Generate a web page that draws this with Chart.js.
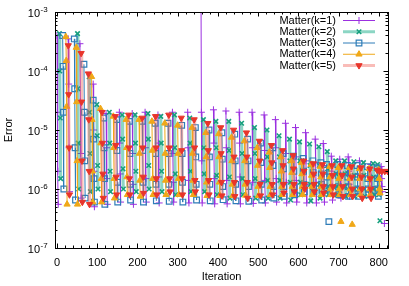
<!DOCTYPE html>
<html>
<head>
<meta charset="utf-8">
<script src="https://cdn.jsdelivr.net/npm/chart.js@4.4.0/dist/chart.umd.min.js"></script>
<style>
  html, body { margin: 0; padding: 0; background: #fff; }
  #wrap { width: 409px; height: 286px; }
</style>
</head>
<body>
<div id="wrap"><canvas id="errChart" width="409" height="286"></canvas></div>
<script>
// Iteration where each drop of the error starts, and the values read along each drop
// (a drop with a single value is an isolated point)
const k1Start = [0, 28, 57, 90, 122, 155, 187, 219, 251, 287, 325, 358, 389, 420, 453, 485, 515, 543, 568, 593, 618, 642, 662, 682, 703, 724, 752, 780, 806, 814];
const k1Vals = [
    [4.0e-4, 2.0e-5, 2.0e-6, 5.5e-7], [3.5e-4, 6.0e-5, 5.0e-6, 9.0e-7], [2.9e-4, 3.0e-5, 4.0e-6, 7.0e-7],
    [6.0e-5, 1.0e-5, 2.0e-6, 5.0e-7], [1.9e-5, 5.0e-6, 1.5e-6, 5.5e-7], [2.0e-5, 6.0e-6, 1.8e-6, 6.0e-7],
    [1.9e-5, 4.0e-6, 1.2e-6, 5.5e-7], [2.0e-5, 5.0e-6, 1.5e-6, 6.0e-7], [1.8e-5, 6.0e-6, 1.6e-6, 5.8e-7],
    [2.0e-5, 4.0e-6, 1.3e-6, 6.0e-7], [2.0e-5, 5.0e-6, 1.4e-6, 5.8e-7], [3.0e-3, 2.0e-5, 3.0e-6, 5.8e-7],
    [2.2e-5, 6.0e-6, 1.5e-6, 5.6e-7], [2.1e-5, 5.0e-6, 1.4e-6, 5.6e-7], [2.0e-5, 6.0e-6, 1.6e-6, 5.6e-7],
    [2.0e-5, 5.0e-6, 1.3e-6, 5.7e-7], [1.8e-5, 4.5e-6, 1.4e-6, 5.8e-7], [1.5e-5, 5.0e-6, 1.5e-6, 6.0e-7],
    [1.3e-5, 4.0e-6, 1.3e-6, 5.8e-7], [1.1e-5, 3.5e-6, 1.4e-6, 6.0e-7], [9.0e-6, 3.0e-6, 1.2e-6, 5.8e-7],
    [7.0e-6, 2.8e-6, 1.3e-6, 5.8e-7], [5.9e-6, 2.5e-6, 1.2e-6, 6.0e-7], [3.6e-6, 2.0e-6, 1.1e-6, 6.5e-7],
    [3.2e-6, 1.8e-6, 1.1e-6, 7.0e-7], [3.5e-6, 2.0e-6, 1.2e-6, 7.5e-7], [3.0e-6, 1.8e-6, 1.1e-6, 8.0e-7],
    [2.6e-6, 1.6e-6, 1.1e-6, 8.5e-7], [2.4e-6, 1.5e-6, 1.1e-6, 9.0e-7], [2.6e-7]
];

const k2Start = [6, 51, 80, 99, 130, 162, 194, 226, 258, 292, 330, 364, 395, 427, 459, 491, 522, 552, 578, 603, 628, 651, 672, 693, 715, 738, 762, 786, 797, 803];
const k2Vals = [
    [4.3e-4, 1.0e-4, 1.6e-5, 1.5e-6], [4.3e-4, 5.0e-5, 6.0e-6, 1.0e-6], [8.0e-5, 2.0e-5, 4.0e-6, 9.0e-7],
    [2.7e-5, 8.0e-6, 2.5e-6, 1.0e-6], [2.0e-5, 6.0e-6, 2.0e-6, 9.0e-7], [1.8e-5, 7.0e-6, 2.2e-6, 1.0e-6],
    [1.8e-5, 6.0e-6, 2.0e-6, 9.0e-7], [1.9e-5, 7.0e-6, 2.5e-6, 1.0e-6], [1.7e-5, 6.0e-6, 2.0e-6, 9.0e-7],
    [1.8e-5, 5.0e-6, 1.8e-6, 8.0e-7], [1.6e-5, 6.0e-6, 2.0e-6, 9.0e-7], [1.5e-5, 5.0e-6, 1.8e-6, 9.0e-7],
    [1.4e-5, 5.0e-6, 1.7e-6, 8.0e-7], [1.4e-5, 4.5e-6, 1.6e-6, 7.0e-7], [1.3e-5, 4.0e-6, 1.5e-6, 8.0e-7],
    [1.1e-5, 4.0e-6, 1.5e-6, 7.0e-7], [1.0e-5, 3.5e-6, 1.4e-6, 7.0e-7], [8.0e-6, 3.5e-6, 1.4e-6, 7.0e-7],
    [7.0e-6, 3.0e-6, 1.3e-6, 6.5e-7], [6.3e-6, 3.0e-6, 1.3e-6, 8.0e-7], [5.8e-6, 2.5e-6, 1.2e-6, 6.3e-7],
    [5.2e-6, 2.5e-6, 1.2e-6, 7.0e-7], [4.3e-6, 2.2e-6, 1.1e-6, 8.0e-7], [3.0e-6, 1.8e-6, 1.1e-6, 8.0e-7],
    [3.0e-6, 1.8e-6, 1.1e-6, 7.5e-7], [2.9e-6, 1.7e-6, 1.0e-6, 7.5e-7], [2.8e-6, 1.7e-6, 1.0e-6, 7.5e-7],
    [2.7e-6, 1.6e-6, 1.0e-6, 8.0e-7], [2.6e-6, 1.5e-6, 1.0e-6, 8.0e-7], [2.9e-7]
];

const k3Start = [14, 43, 67, 90, 116, 148, 180, 212, 244, 276, 310, 344, 378, 410, 442, 474, 506, 536, 562, 588, 612, 636, 656, 670, 676, 698, 722, 746, 772, 796];
const k3Vals = [
    [4.0e-4, 1.2e-4, 2.0e-5, 1.0e-6], [3.5e-4, 5.0e-5, 5.0e-6, 6.5e-7], [1.3e-4, 2.0e-5, 3.0e-6, 7.0e-7],
    [3.2e-5, 7.0e-6, 1.5e-6, 6.0e-7], [1.6e-5, 5.0e-6, 1.5e-6, 5.5e-7], [1.5e-5, 4.5e-6, 1.3e-6, 6.0e-7],
    [1.4e-5, 4.0e-6, 1.2e-6, 6.5e-7], [1.4e-5, 4.5e-6, 1.3e-6, 6.0e-7], [1.3e-5, 4.0e-6, 1.2e-6, 6.3e-7],
    [1.3e-5, 4.0e-6, 1.2e-6, 6.2e-7], [1.2e-5, 4.0e-6, 1.3e-6, 6.0e-7], [1.1e-5, 3.5e-6, 1.2e-6, 6.5e-7],
    [1.0e-5, 3.5e-6, 1.2e-6, 6.3e-7], [9.0e-6, 3.2e-6, 1.1e-6, 6.6e-7], [8.5e-6, 3.0e-6, 1.2e-6, 6.3e-7],
    [7.0e-6, 3.0e-6, 1.1e-6, 6.2e-7], [6.0e-6, 2.8e-6, 1.2e-6, 6.5e-7], [5.0e-6, 2.5e-6, 1.1e-6, 7.0e-7],
    [4.0e-6, 2.2e-6, 1.1e-6, 7.5e-7], [3.6e-6, 2.0e-6, 1.1e-6, 8.0e-7], [3.3e-6, 2.0e-6, 1.2e-6, 9.0e-7],
    [3.0e-6, 1.9e-6, 1.1e-6, 9.0e-7], [2.8e-6, 1.8e-6, 1.2e-6, 9.5e-7], [2.6e-6, 1.6e-6, 1.0e-6, 8.5e-7],
    [2.8e-7], [2.6e-6, 1.7e-6, 1.1e-6, 8.0e-7], [2.5e-6, 1.6e-6, 1.1e-6, 7.5e-7], [2.5e-6, 1.6e-6, 1.0e-6, 7.5e-7],
    [2.4e-6, 1.5e-6, 1.0e-6, 8.0e-7], [2.3e-6, 1.5e-6, 1.0e-6, 7.5e-7]
];

const k4Start = [22, 48, 86, 108, 140, 172, 204, 236, 268, 300, 336, 370, 402, 434, 466, 498, 528, 557, 583, 608, 632, 655, 678, 700, 706, 727, 734, 752, 776, 800];
const k4Vals = [
    [3.8e-4, 1.5e-4, 2.5e-5, 5.5e-7], [2.5e-4, 3.0e-5, 3.0e-6, 5.5e-7], [8.0e-5, 1.5e-5, 2.0e-6, 6.0e-7],
    [2.3e-5, 6.0e-6, 1.5e-6, 6.0e-7], [1.7e-5, 5.0e-6, 1.5e-6, 7.0e-7], [1.5e-5, 5.0e-6, 1.6e-6, 8.0e-7],
    [1.5e-5, 4.0e-6, 1.4e-6, 7.5e-7], [1.4e-5, 4.5e-6, 1.5e-6, 8.0e-7], [1.3e-5, 4.0e-6, 1.4e-6, 8.0e-7],
    [1.2e-5, 4.0e-6, 1.5e-6, 8.0e-7], [1.1e-5, 4.0e-6, 1.4e-6, 8.0e-7], [9.0e-6, 3.5e-6, 1.3e-6, 7.7e-7],
    [8.6e-6, 3.5e-6, 1.3e-6, 7.7e-7], [7.5e-6, 3.0e-6, 1.2e-6, 7.7e-7], [6.5e-6, 3.0e-6, 1.2e-6, 7.8e-7],
    [5.0e-6, 2.5e-6, 1.1e-6, 7.7e-7], [4.2e-6, 2.3e-6, 1.1e-6, 8.0e-7], [3.5e-6, 2.0e-6, 1.1e-6, 8.0e-7],
    [3.0e-6, 1.9e-6, 1.1e-6, 8.0e-7], [2.8e-6, 1.8e-6, 1.1e-6, 8.0e-7], [2.6e-6, 1.7e-6, 1.1e-6, 8.0e-7],
    [2.4e-6, 1.6e-6, 1.1e-6, 8.0e-7], [2.4e-6, 1.6e-6, 1.0e-6, 8.0e-7], [2.3e-6, 1.5e-6, 1.0e-6, 8.0e-7],
    [2.8e-7], [2.3e-6, 1.5e-6, 1.0e-6, 8.0e-7], [2.5e-7], [2.2e-6, 1.5e-6, 1.0e-6, 8.0e-7],
    [2.2e-6, 1.5e-6, 1.0e-6, 8.0e-7], [2.1e-6, 1.5e-6, 1.0e-6, 8.5e-7]
];

const k5Start = [28, 60, 78, 112, 145, 178, 212, 245, 278, 309, 341, 375, 407, 439, 471, 503, 533, 561, 587, 613, 637, 660, 684, 708, 732, 756, 778];
const k5Vals = [
    [2.7e-4, 4.0e-5, 5.0e-6, 8.0e-7], [2.0e-4, 3.0e-5, 3.0e-6, 6.0e-7], [9.0e-5, 1.5e-5, 2.0e-6, 5.5e-7],
    [2.0e-5, 6.0e-6, 1.8e-6, 7.0e-7], [1.7e-5, 5.5e-6, 1.6e-6, 8.0e-7], [1.8e-5, 5.0e-6, 1.5e-6, 8.0e-7],
    [1.6e-5, 5.0e-6, 1.6e-6, 8.5e-7], [1.7e-5, 5.0e-6, 1.5e-6, 8.0e-7], [1.8e-5, 5.0e-6, 1.5e-6, 9.0e-7],
    [1.6e-5, 4.5e-6, 1.5e-6, 8.0e-7], [1.5e-5, 5.0e-6, 1.4e-6, 9.0e-7], [1.3e-5, 4.5e-6, 1.4e-6, 8.0e-7],
    [1.1e-5, 4.0e-6, 1.3e-6, 7.7e-7], [1.0e-5, 3.5e-6, 1.3e-6, 7.5e-7], [9.0e-6, 3.5e-6, 1.3e-6, 7.0e-7],
    [6.5e-6, 3.0e-6, 1.2e-6, 7.7e-7], [5.5e-6, 2.8e-6, 1.2e-6, 8.0e-7], [4.5e-6, 2.5e-6, 1.2e-6, 8.6e-7],
    [3.7e-6, 2.2e-6, 1.2e-6, 9.0e-7], [3.0e-6, 2.0e-6, 1.2e-6, 1.0e-6], [2.7e-6, 1.8e-6, 1.2e-6, 9.0e-7],
    [2.6e-6, 1.8e-6, 1.1e-6, 8.6e-7], [2.5e-6, 1.7e-6, 1.1e-6, 8.0e-7], [2.5e-6, 1.7e-6, 1.1e-6, 7.5e-7],
    [2.4e-6, 1.6e-6, 1.0e-6, 7.5e-7], [2.3e-6, 1.6e-6, 1.0e-6, 7.0e-7], [2.2e-6, 1.5e-6, 1.0e-6, 7.0e-7]
];
// k=5 settles flat at the end
const k5TailIter = [796, 802, 808, 815, 822];
const k5TailVals = [2.1e-6, 2.0e-6, 2.0e-6, 2.0e-6, 2.0e-6];

const seriesLabels = ['Matter(k=1)', 'Matter(k=2)', 'Matter(k=3)', 'Matter(k=4)', 'Matter(k=5)'];
const xTicks = [0, 100, 200, 300, 400, 500, 600, 700, 800];
const yExponents = [-3, -4, -5, -6, -7];

const FONT = '"Liberation Sans", Arial, sans-serif';

// each drop is one short run of consecutive iterations; a null breaks the line before the next drop
function buildPoints(starts, vals) {
    const pts = [];
    starts.forEach((s, i) => {
        vals[i].forEach((v, j) => pts.push({ x: s + j, y: v }));
        pts.push({ x: s + vals[i].length, y: null });
    });
    return pts;
}

const k5Points = buildPoints(k5Start, k5Vals);
k5TailIter.forEach((it, i) => k5Points.push({ x: it, y: k5TailVals[i] }));

const datasets = [
    {
        label: seriesLabels[0], data: buildPoints(k1Start, k1Vals),
        borderColor: '#9b30e0', borderWidth: 1,
        pointStyle: 'cross', pointRadius: 3.5, pointBorderWidth: 1,
        pointBorderColor: '#9b30e0', pointBackgroundColor: '#9b30e0', order: 5
    },
    {
        label: seriesLabels[1], data: buildPoints(k2Start, k2Vals),
        borderColor: 'rgba(0, 165, 125, 0.45)', borderWidth: 3,
        pointStyle: 'crossRot', pointRadius: 3.2, pointBorderWidth: 1.6,
        pointBorderColor: '#16a07e', pointBackgroundColor: '#16a07e', order: 4
    },
    {
        label: seriesLabels[2], data: buildPoints(k3Start, k3Vals),
        borderColor: '#2f7db8', borderWidth: 1,
        pointStyle: 'rect', pointRadius: 4, pointBorderWidth: 1.2,
        pointBorderColor: '#2f7db8', pointBackgroundColor: 'rgba(255,255,255,0)', order: 3
    },
    {
        label: seriesLabels[3], data: buildPoints(k4Start, k4Vals),
        borderColor: '#f0a818', borderWidth: 1,
        pointStyle: 'triangle', pointRadius: 3.6, pointBorderWidth: 1,
        pointBorderColor: '#f0a818', pointBackgroundColor: '#f0a818', order: 2
    },
    {
        label: seriesLabels[4], data: k5Points,
        borderColor: 'rgba(240, 95, 85, 0.42)', borderWidth: 3,
        pointStyle: 'triangle', pointRotation: 180, pointRadius: 3.6, pointBorderWidth: 1,
        pointBorderColor: '#e8352b', pointBackgroundColor: '#e8352b', order: 1
    }
];
datasets.forEach(ds => { ds.spanGaps = false; ds.tension = 0; ds.fill = false; });

// gnuplot style border with inward ticks on all four sides
const framePlugin = {
    id: 'frame',
    afterDatasetsDraw(chart) {
        const { ctx, chartArea: a, scales: { x, y } } = chart;
        ctx.save();
        ctx.strokeStyle = '#000';
        ctx.lineWidth = 1;
        const tick = (px, len, vertical) => {
            ctx.beginPath();
            if (vertical) {
                ctx.moveTo(px, a.bottom); ctx.lineTo(px, a.bottom - len);
                ctx.moveTo(px, a.top); ctx.lineTo(px, a.top + len);
            } else {
                ctx.moveTo(a.left, px); ctx.lineTo(a.left + len, px);
                ctx.moveTo(a.right, px); ctx.lineTo(a.right - len, px);
            }
            ctx.stroke();
        };
        for (let v = 0; v <= x.max; v += 20) {
            const px = Math.round(x.getPixelForValue(v)) + 0.5;
            tick(px, v % 100 === 0 ? 4.5 : 2.5, true);
        }
        yExponents.forEach(e => {
            const base = Math.pow(10, e);
            tick(Math.round(y.getPixelForValue(base)) + 0.5, 4.5, false);
            if (e > -3) return;
            for (let m = 2; m <= 9; m++) {
                const v = m * base;
                if (v >= y.max) break;
                tick(Math.round(y.getPixelForValue(v)) + 0.5, 2.5, false);
            }
        });
        ctx.strokeRect(a.left + 0.5, a.top + 0.5, a.right - a.left, a.bottom - a.top);
        ctx.restore();
    }
};

// 10^e labels with a raised exponent
const yLabelPlugin = {
    id: 'yLabels',
    afterDraw(chart) {
        const { ctx, scales: { y } } = chart;
        ctx.save();
        ctx.fillStyle = '#000';
        ctx.textBaseline = 'middle';
        yExponents.forEach(e => {
            const py = y.getPixelForValue(Math.pow(10, e));
            ctx.font = '11px ' + FONT;
            ctx.textAlign = 'right';
            ctx.fillText('10', 40, py + 1.5);
            ctx.font = '8px ' + FONT;
            ctx.textAlign = 'left';
            ctx.fillText(String(e), 40.5, py - 2);
        });
        ctx.restore();
    }
};

// key in the top right corner: text right aligned, sample to the right
const keyPlugin = {
    id: 'key',
    afterDraw(chart) {
        const ctx = chart.ctx;
        ctx.save();
        chart.data.datasets.forEach((ds, i) => {
            const yy = 20.5 + i * 11.25;
            ctx.font = '11px ' + FONT;
            ctx.textAlign = 'right';
            ctx.textBaseline = 'middle';
            ctx.fillStyle = '#000';
            ctx.fillText(ds.label, 336, yy);
            ctx.strokeStyle = ds.borderColor;
            ctx.lineWidth = ds.borderWidth;
            ctx.beginPath();
            ctx.moveTo(343, yy);
            ctx.lineTo(375, yy);
            ctx.stroke();
            ctx.fillStyle = ds.pointBackgroundColor;
            ctx.strokeStyle = ds.pointBorderColor;
            ctx.lineWidth = ds.pointBorderWidth;
            Chart.helpers.drawPoint(ctx, {
                pointStyle: ds.pointStyle,
                radius: ds.pointRadius,
                rotation: ds.pointRotation || 0,
                borderWidth: ds.pointBorderWidth
            }, 359, yy);
        });
        ctx.restore();
    }
};

const ctx = document.getElementById('errChart').getContext('2d');
const errChart = new Chart(ctx, {
    type: 'line',
    data: { datasets: datasets },
    options: {
        responsive: false,
        animation: false,
        layout: { padding: { top: 12, right: 21, bottom: 0, left: 0 } },
        plugins: { legend: { display: false }, tooltip: { enabled: false } },
        scales: {
            x: {
                type: 'linear', min: -5, max: 823,
                grid: { display: false, drawTicks: false },
                border: { display: false },
                afterBuildTicks: s => { s.ticks = xTicks.map(v => ({ value: v })); },
                afterFit: s => { s.height = 38; },
                ticks: {
                    padding: 8, maxRotation: 0, autoSkip: false, color: '#000',
                    font: { family: FONT, size: 11 }
                },
                title: {
                    display: true, text: 'Iteration', color: '#000',
                    font: { family: FONT, size: 11 }, padding: { top: 0, bottom: 2 }
                }
            },
            y: {
                type: 'logarithmic', min: 1e-7, max: 1e-3,
                grid: { display: false, drawTicks: false },
                border: { display: false },
                ticks: { display: false },
                afterFit: s => { s.width = 55; },
                title: {
                    display: true, text: 'Error', color: '#000',
                    font: { family: FONT, size: 11 }, padding: { top: 2, bottom: 0 }
                }
            }
        }
    },
    plugins: [framePlugin, yLabelPlugin, keyPlugin]
});
</script>
</body>
</html>
